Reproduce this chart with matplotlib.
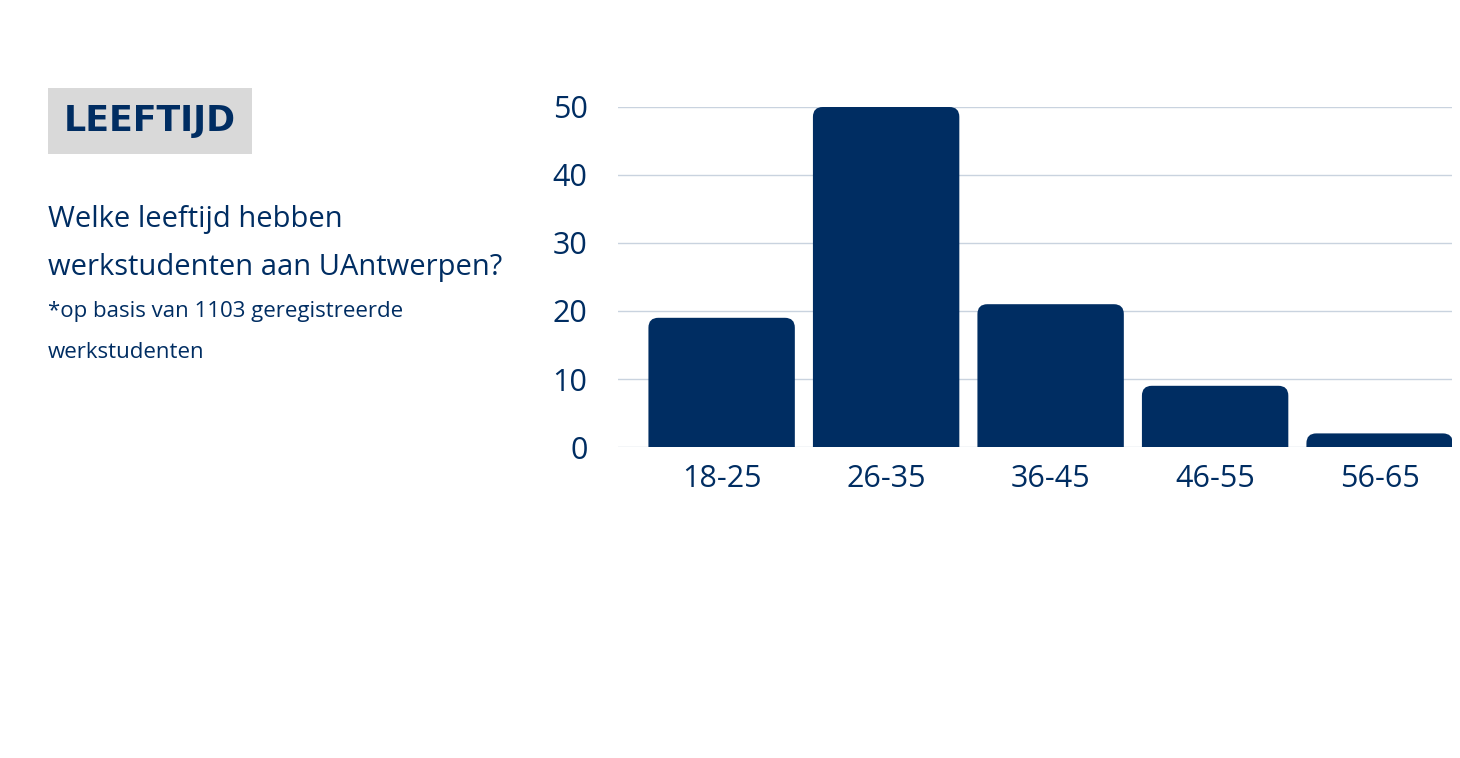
import matplotlib
matplotlib.use('Agg')
import matplotlib.pyplot as plt
from matplotlib.patches import FancyBboxPatch

NAVY = '#002d62'
GRID = '#c9d3df'

categories = ['18-25', '26-35', '36-45', '46-55', '56-65']
values = [19, 50, 21, 9, 2]
yticks = [0, 10, 20, 30, 40, 50]

plt.rcParams['font.family'] = ['Liberation Sans Narrow', 'Open Sans', 'DejaVu Sans']

fig = plt.figure(figsize=(14.6, 7.58), dpi=100)
ax = fig.add_axes([618/1460, 1-447/758, (1452-618)/1460, (447-107)/758])
ax.set_xlim(-0.63, 4.44)
ax.set_ylim(0, 50)

# rounded top corners: bars start below 0 and get clipped by the axes
asp = (50/340) / (5.07/834)
for i, v in enumerate(values):
    p = FancyBboxPatch((i - 0.445, -2), 0.89, v + 2,
                       boxstyle='round,pad=0,rounding_size=0.06',
                       mutation_aspect=asp, fc=NAVY, ec='none', zorder=3)
    ax.add_patch(p)

ax.set_yticks(yticks)
ax.set_xticks(range(len(categories)))
ax.set_xticklabels(categories)
ax.tick_params(length=0, labelsize=22, labelcolor=NAVY)
ax.tick_params(axis='y', pad=22)
ax.tick_params(axis='x', pad=12)
ax.grid(axis='y', color=GRID, lw=1, zorder=0)
for s in ax.spines.values():
    s.set_visible(False)

fig.text(64/1460, 1-121/758, 'LEEFTIJD', fontsize=25, fontweight='bold', color=NAVY,
         va='center', family=['DejaVu Sans'],
         bbox=dict(boxstyle='square,pad=0.45', fc='#d9d9d9', ec='none'))
fig.text(48/1460, 1-219/758, 'Welke leeftijd hebben', fontsize=21, color=NAVY, va='center')
fig.text(48/1460, 1-268/758, 'werkstudenten aan UAntwerpen?', fontsize=21, color=NAVY, va='center')
fig.text(48/1460, 1-312/758, '*op basis van 1103 geregistreerde', fontsize=16, color=NAVY, va='center')
fig.text(48/1460, 1-352/758, 'werkstudenten', fontsize=16, color=NAVY, va='center')

fig.savefig('out.png', dpi=100, facecolor='white')
